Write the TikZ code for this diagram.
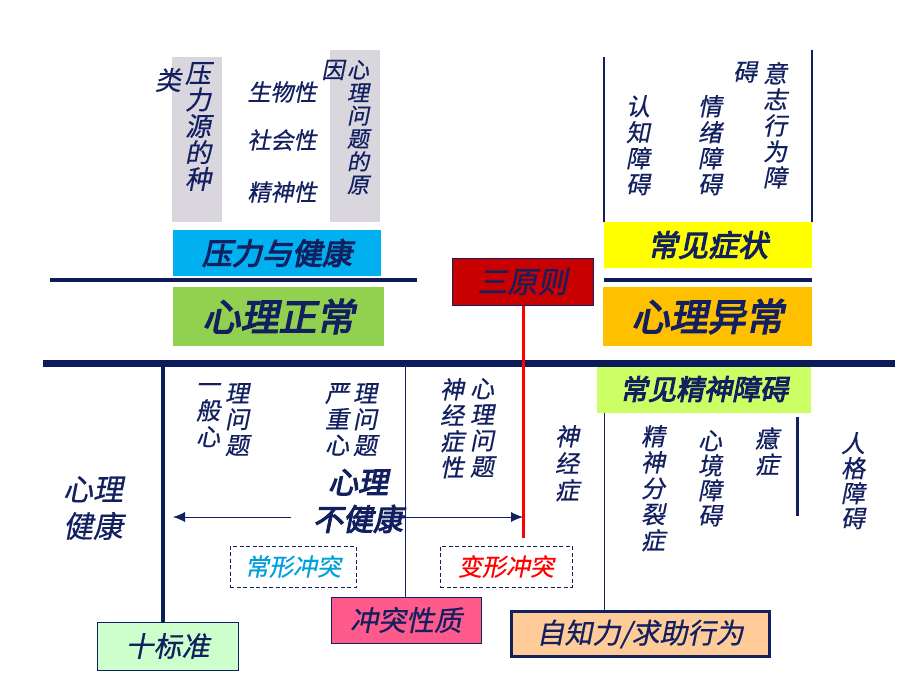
\documentclass[tikz,border=0pt]{standalone}
\usepackage{fontspec}
\usepackage{xcolor}
\usepackage{tikz}
\usetikzlibrary{arrows.meta}

\newfontfamily\cjk[FakeSlant=0.2,FakeBold=0.6]{Noto Sans CJK SC}
\newfontfamily\cjkbold[FakeSlant=0.2,FakeBold=3.5]{Noto Sans CJK SC}

\definecolor{navy}{RGB}{18,32,96}
\definecolor{linenavy}{RGB}{12,28,90}
\definecolor{stripgray}{RGB}{218,214,222}
\definecolor{skyfill}{RGB}{0,176,240}
\definecolor{grassfill}{RGB}{146,208,80}
\definecolor{lemonfill}{RGB}{255,255,0}
\definecolor{amberfill}{RGB}{255,192,0}
\definecolor{rulered}{RGB}{200,0,0}
\definecolor{limefill}{RGB}{204,255,102}
\definecolor{mintfill}{RGB}{204,255,204}
\definecolor{rosefill}{RGB}{255,90,140}
\definecolor{peachfill}{RGB}{255,204,153}
\definecolor{conflictcyan}{RGB}{0,160,220}

\tikzset{
  titlebox/.style={inner sep=0, text=navy, font=\cjkbold\fontsize{30}{32}\selectfont},
  plainbox/.style={inner sep=0, text=navy, draw=navy, line width=1pt, font=\cjk\fontsize{28}{30}\selectfont},
  dashbox/.style={inner sep=0, draw=navy, dash pattern=on 4pt off 2.5pt, line width=0.8pt, font=\cjk\fontsize{24}{25}\selectfont},
  vtext/.style={inner sep=0, text=navy, align=center, anchor=north, font=\cjk\fontsize{24}{26}\selectfont},
  thickline/.style={linenavy, line width=4pt},
  thinline/.style={navy, line width=0.8pt},
}

\begin{document}
\begin{tikzpicture}[x=1pt, y=-1pt]
    \fill[white] (0,0) rectangle (920,690);
    \useasboundingbox (0,0) rectangle (920,690);

    % Grey strips behind the cause texts
    \fill[stripgray] (172,57) rectangle (222,222);
    \fill[stripgray] (330,50) rectangle (380,222);

    % Define nodes: top left
    \node[vtext, font=\cjk\fontsize{26}{26.5}\selectfont] (stressA) at (198,62) {压\\力\\源\\的\\种};
    \node[vtext, anchor=center, font=\cjk\fontsize{26}{26.5}\selectfont] (stressB) at (168,80) {类};
    \node[vtext, font=\cjk\fontsize{22}{23}\selectfont] (causeA) at (358,60) {心\\理\\问\\题\\的\\原};
    \node[vtext, anchor=center, font=\cjk\fontsize{23}{23}\selectfont] (causeB) at (333,70) {因};
    \node[vtext, anchor=center, font=\cjk\fontsize{23}{23}\selectfont] (bio) at (282,92) {生物性};
    \node[vtext, anchor=center, font=\cjk\fontsize{23}{23}\selectfont] (social) at (282,140) {社会性};
    \node[vtext, anchor=center, font=\cjk\fontsize{23}{23}\selectfont] (spirit) at (282,192) {精神性};

    % Define nodes: top right
    \node[vtext] (cogn) at (638,95) {认\\知\\障\\碍};
    \node[vtext] (emot) at (710,95) {情\\绪\\障\\碍};
    \node[vtext] (willA) at (775,62) {意\\志\\行\\为\\障};
    \node[vtext, anchor=center] (willB) at (745,72) {碍};

    % Coloured title boxes
    \node[titlebox, fill=skyfill, minimum width=208, minimum height=46] (stress) at (277,253) {压力与健康};
    \node[titlebox, fill=grassfill, minimum width=211, minimum height=59, font=\cjkbold\fontsize{38}{40}\selectfont] (normal) at (278.5,316.5) {心理正常};
    \node[titlebox, fill=lemonfill, minimum width=208, minimum height=46] (symptom) at (708,245) {常见症状};
    \node[titlebox, fill=amberfill, minimum width=209, minimum height=59, font=\cjkbold\fontsize{38}{40}\selectfont] (abnormal) at (707.5,316.5) {心理异常};
    \node[plainbox, fill=rulered, minimum width=141, minimum height=47, font=\cjk\fontsize{30}{32}\selectfont] (rules) at (522.5,281.5) {三原则};
    \node[titlebox, fill=limefill, minimum width=214, minimum height=47, font=\cjkbold\fontsize{28}{30}\selectfont] (disorder) at (704,389) {常见精神障碍};

    % Define nodes: lower half
    \node[vtext, anchor=center, align=center, font=\cjk\fontsize{30}{37}\selectfont] (healthy) at (93,508) {心理\\健康};
    \node[vtext] (generalA) at (208,383) {一\\般\\心};
    \node[vtext] (generalB) at (237,383) {理\\问\\题};
    \node[vtext] (severeA) at (337,383) {严\\重\\心};
    \node[vtext] (severeB) at (365,383) {理\\问\\题};
    \node[vtext, anchor=center, font=\cjkbold\fontsize{30}{37}\selectfont] (unhealthy) at (358,501) {心理\\不健康};
    \node[vtext] (neuroA) at (452,378) {神\\经\\症\\性};
    \node[vtext] (neuroB) at (482,378) {心\\理\\问\\题};
    \node[vtext, font=\cjk\fontsize{24}{27}\selectfont] (neurosis) at (567,425) {神\\经\\症};
    \node[vtext] (schizo) at (653,425) {精\\神\\分\\裂\\症};
    \node[vtext, font=\cjk\fontsize{24}{25}\selectfont] (mood) at (710,430) {心\\境\\障\\碍};
    \node[vtext] (hysteria) at (767,427) {癔\\症};
    \node[vtext, font=\cjk\fontsize{24}{25}\selectfont] (person) at (853,432) {人\\格\\障\\碍};

    \node[dashbox, text=conflictcyan, minimum width=126, minimum height=41] (usual) at (293,566.5) {常形冲突};
    \node[dashbox, text=red, minimum width=132, minimum height=41] (deform) at (506,566.5) {变形冲突};

    \node[plainbox, fill=mintfill, minimum width=141, minimum height=48] (standard) at (167.5,646) {十标准};
    \node[plainbox, fill=rosefill, minimum width=150, minimum height=46] (nature) at (406,620) {冲突性质};
    \node[plainbox, fill=peachfill, line width=3pt, minimum width=258, minimum height=45] (insight) at (640,634) {自知力/求助行为};

    % Helper coordinates
    \coordinate (mainL) at (43,363);
    \coordinate (mainR) at (895,363);
    \coordinate (leftStem) at (163,363);
    \coordinate (midStem) at (405,363);
    \coordinate (redEnd) at (523,538);
    \coordinate (leftTip) at (173,517);
    \coordinate (rightTip) at (523,517);

    % Draw rules
    \draw[thickline] (50,280) -- (417,280);
    \draw[thickline] (604,280) -- (812,280);
    \draw[linenavy, line width=7pt] (mainL) -- (mainR);
    \draw[navy, line width=2pt] (604,57) -- (604,222);
    \draw[navy, line width=2pt] (812,50) -- (812,222);
    \draw[navy, line width=3pt] (797,417) -- (797,516);

    % Draw edges
    \draw[linenavy, line width=4pt] (leftStem) -- (leftStem |- standard.north);
    \draw[thinline] (midStem) -- (midStem |- nature.north);
    \draw[thinline] (disorder.south -| 604,0) -- (insight.north -| 604,0);
    \draw[red, line width=3pt] (rules.south -| redEnd) -- (redEnd);
    \draw[thinline, -{Latex[length=12pt,width=10pt]}] (unhealthy.west |- leftTip) ++(-22,0) -- (leftTip);
    \draw[thinline, -{Latex[length=12pt,width=10pt]}] (unhealthy.east |- rightTip) ++(2,0) -- (rightTip);
\end{tikzpicture}
\end{document}
